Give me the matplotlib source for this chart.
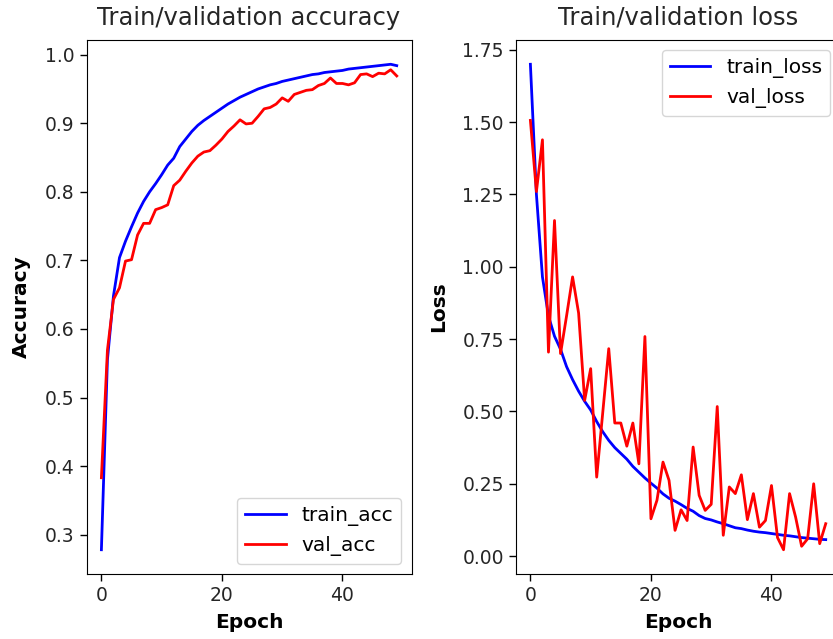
import matplotlib
matplotlib.use('Agg')
import matplotlib.pyplot as plt

# 학습 기록 (epoch 0~49)
epochs = list(range(50))

train_acc = [0.278, 0.555, 0.648, 0.704, 0.728, 0.749, 0.769, 0.786, 0.800, 0.812,
             0.825, 0.839, 0.849, 0.866, 0.877, 0.888, 0.897, 0.904, 0.910, 0.916,
             0.922, 0.928, 0.933, 0.938, 0.942, 0.946, 0.950, 0.953, 0.956, 0.958,
             0.961, 0.963, 0.965, 0.967, 0.969, 0.971, 0.972, 0.974, 0.975, 0.976,
             0.977, 0.979, 0.980, 0.981, 0.982, 0.983, 0.984, 0.985, 0.986, 0.984]

val_acc = [0.383, 0.569, 0.643, 0.660, 0.699, 0.701, 0.737, 0.754, 0.754, 0.774,
           0.777, 0.781, 0.809, 0.817, 0.830, 0.842, 0.852, 0.858, 0.860, 0.868,
           0.877, 0.888, 0.896, 0.905, 0.899, 0.900, 0.910, 0.921, 0.923, 0.928,
           0.937, 0.932, 0.942, 0.945, 0.948, 0.949, 0.955, 0.958, 0.966, 0.958,
           0.958, 0.956, 0.959, 0.971, 0.972, 0.968, 0.973, 0.972, 0.978, 0.969]

train_loss = [1.700, 1.250, 0.965, 0.830, 0.760, 0.715, 0.655, 0.610, 0.570, 0.535,
              0.505, 0.465, 0.430, 0.400, 0.375, 0.355, 0.335, 0.310, 0.290, 0.270,
              0.252, 0.235, 0.215, 0.200, 0.190, 0.178, 0.165, 0.155, 0.140, 0.130,
              0.125, 0.118, 0.112, 0.105, 0.098, 0.095, 0.090, 0.086, 0.083, 0.081,
              0.078, 0.075, 0.072, 0.070, 0.067, 0.064, 0.062, 0.060, 0.058, 0.057]

val_loss = [1.506, 1.260, 1.439, 0.705, 1.160, 0.700, 0.830, 0.965, 0.840, 0.538,
            0.648, 0.273, 0.495, 0.717, 0.460, 0.460, 0.380, 0.460, 0.319, 0.759,
            0.129, 0.193, 0.325, 0.262, 0.089, 0.160, 0.123, 0.377, 0.210, 0.158,
            0.179, 0.517, 0.072, 0.239, 0.216, 0.281, 0.126, 0.216, 0.100, 0.123,
            0.244, 0.064, 0.022, 0.216, 0.135, 0.034, 0.060, 0.250, 0.043, 0.112]

plt.rcParams['font.size'] = 13.5

fig = plt.figure(figsize=(8.33, 6.39), dpi=100)
# 오른쪽 그래프는 원본처럼 그림 밖으로 살짝 잘리게 배치
ax1 = fig.add_axes([0.104, 0.1017, 0.390, 0.8357])
ax2 = fig.add_axes([0.619, 0.1017, 0.390, 0.8357])

# === 왼쪽: 정확도 ===
ax1.plot(epochs, train_acc, color='blue', linewidth=2, label='train_acc')
ax1.plot(epochs, val_acc, color='red', linewidth=2, label='val_acc')
ax1.set_title('Train/validation accuracy', fontsize=17.5, color='#262626', pad=11)
ax1.set_xlabel('Epoch', fontsize=14.5, fontweight='bold', labelpad=6)
ax1.set_ylabel('Accuracy', fontsize=14.5, fontweight='bold', labelpad=10)
ax1.legend(loc='lower right', fontsize=14.5)

# === 오른쪽: 손실 ===
ax2.plot(epochs, train_loss, color='blue', linewidth=2, label='train_loss')
ax2.plot(epochs, val_loss, color='red', linewidth=2, label='val_loss')
ax2.set_title('Train/validation loss', fontsize=17.5, color='#262626', pad=11)
ax2.set_xlabel('Epoch', fontsize=14.5, fontweight='bold', labelpad=6)
ax2.set_ylabel('Loss', fontsize=14.5, fontweight='bold', labelpad=10)
ax2.legend(loc='upper right', fontsize=14.5)

for ax in (ax1, ax2):
    ax.set_xticks([0, 20, 40])
    ax.tick_params(labelsize=13.5, length=5, width=1, labelcolor='#262626')

plt.savefig('out.png', dpi=100, facecolor='white')
plt.close(fig)
